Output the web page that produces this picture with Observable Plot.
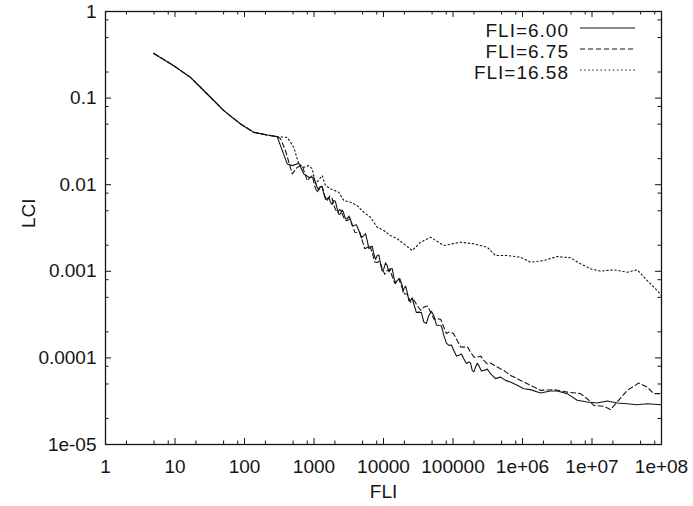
<!DOCTYPE html>
<html><head><meta charset="utf-8">
<script src="https://cdn.jsdelivr.net/npm/d3@7"></script>
<script src="https://cdn.jsdelivr.net/npm/@observablehq/plot@0.6"></script>
<style>body{margin:0;background:#fff} #chart{width:693px;height:506px}</style>
</head><body><div id="chart"></div>
<script>
// ---- data ----
const seriesNames = ["FLI=6.00", "FLI=6.75", "FLI=16.58"];

// shared initial part of all three curves
const fliCommon = [4.95, 9.6, 16.7, 29.1, 50.4, 87.6, 136, 212, 295];
const lciCommon = [0.328, 0.2365, 0.1733, 0.1115, 0.0716, 0.0503, 0.0402, 0.0375, 0.0359];

// FLI=6.00 (solid)
const fliA = [412, 490, 604, 713, 842, 993, 1112, 1176, 1240, 1312, 1384, 1466, 1548, 1638, 1728, 1818, 1908, 2032, 2157, 2282, 2406, 2532, 2658, 2831, 3004, 3178, 3352, 3546, 3739, 4076, 4412, 4809, 5206, 5518, 5829, 6166, 6502, 6878, 7254, 7687, 8120, 8588, 9055, 9578, 10100, 10700, 11300, 11955, 12610, 13340, 14070, 14905, 15740, 17160, 18580, 19085, 19590, 20760, 21930, 23195, 24460, 25875, 27290, 29745, 32200, 35105, 38010, 41435, 44860, 48890, 52920, 57700, 62480, 68110, 73740, 80370, 87000, 94850, 102700, 111950, 121200, 132100, 143000, 155900, 168800, 178900, 189000, 199900, 210800, 222900, 235000, 256250, 277500, 311950, 346400, 408800, 482500, 569400, 672000, 838700, 1.044e6, 1.304e6, 1.816e6, 2.53e6, 3.16e6, 4.40e6, 6.13e6, 8.53e6, 1.188e7, 1.655e7, 2.305e7, 3.21e7, 4.47e7, 6.23e7, 1e8];
const lciA = [0.01738, 0.01661, 0.01766, 0.01332, 0.01217, 0.01217, 0.00933, 0.00866, 0.0095, 0.00944, 0.00783, 0.00676, 0.00686, 0.00716, 0.00627, 0.0059, 0.00656, 0.00644, 0.00526, 0.00454, 0.0046, 0.00511, 0.00477, 0.00405, 0.00403, 0.00435, 0.00396, 0.00338, 0.00338, 0.00345, 0.002956, 0.00244, 0.002587, 0.00272, 0.002265, 0.00183, 0.001897, 0.00195, 0.001591, 0.00137, 0.001521, 0.00154, 0.00122, 0.001008, 0.001069, 0.001252, 0.001167, 0.000984, 0.001069, 0.001077, 0.000855, 0.000721, 0.000783, 0.000823, 0.000686, 0.000578, 0.000628, 0.000673, 0.000574, 0.000455, 0.00046, 0.000494, 0.000422, 0.000334, 0.000338, 0.000335, 0.000259, 0.00025, 0.000309, 0.000346, 0.000309, 0.00024, 0.000237, 0.000235, 0.000182, 0.000148, 0.0001394, 0.000141, 0.000122, 0.000105, 0.0001069, 0.000111, 0.0000979, 0.0000862, 0.0000895, 0.000087, 0.0000717, 0.000069, 0.0000783, 0.0000865, 0.0000819, 0.0000707, 0.0000717, 0.0000742, 0.0000657, 0.0000576, 0.00006, 0.000055, 0.0000526, 0.0000482, 0.0000441, 0.000043, 0.0000393, 0.0000414, 0.0000414, 0.0000387, 0.0000324, 0.0000309, 0.0000301, 0.0000318, 0.0000301, 0.0000296, 0.0000288, 0.0000296, 0.0000288];

// FLI=6.75 (dashed)
const fliB = [329.6, 389, 485.7, 573, 676.5, 798.5, 942, 1027, 1112, 1212, 1312, 1430, 1548, 1688, 1828, 1992, 2157, 2352, 2546, 2775, 3004, 3275, 3545, 3864, 4183, 4560, 4937, 5383, 5829, 6353, 6877, 7499, 8120, 8850, 9580, 10440, 11300, 12320, 13340, 14540, 15740, 16655, 17570, 20000, 22000, 24460, 27500, 30540, 34275, 38010, 42740, 47470, 53370, 59270, 66500, 73740, 80370, 87000, 101000, 114900, 128950, 143000, 160800, 178600, 200750, 222900, 250200, 277500, 311950, 346400, 432500, 538200, 672000, 838700, 1.044e6, 1.304e6, 1.816e6, 2.82e6, 4.40e6, 6.83e6, 8.53e6, 1.062e7, 1.478e7, 1.846e7, 2.305e7, 3.21e7, 4.71e7, 6.23e7, 7.75e7, 1e8];
const lciB = [0.034, 0.02474, 0.01332, 0.01587, 0.01661, 0.01115, 0.01274, 0.00959, 0.0081, 0.00968, 0.0095, 0.00739, 0.00656, 0.00741, 0.00691, 0.00537, 0.00477, 0.00518, 0.00464, 0.0039, 0.00385, 0.00402, 0.003466, 0.00282, 0.0028, 0.00284, 0.002265, 0.00182, 0.00188, 0.001975, 0.001647, 0.00128, 0.001263, 0.00131, 0.001077, 0.000923, 0.001021, 0.00106, 0.000871, 0.000728, 0.000783, 0.000825, 0.000717, 0.00055, 0.000545, 0.00044, 0.000464, 0.000403, 0.000355, 0.000385, 0.000398, 0.000338, 0.000279, 0.000283, 0.00028, 0.0002265, 0.000191, 0.0001984, 0.000193, 0.000159, 0.000134, 0.0001332, 0.000135, 0.0001167, 0.000102, 0.0001021, 0.0001047, 0.0000936, 0.000085, 0.0000871, 0.0000783, 0.0000717, 0.0000628, 0.0000576, 0.0000526, 0.0000482, 0.0000422, 0.000043, 0.0000403, 0.0000387, 0.0000338, 0.0000283, 0.0000276, 0.0000253, 0.0000309, 0.0000422, 0.0000512, 0.000046, 0.0000387, 0.0000387];

// FLI=16.58 (dotted)
const fliC = [412, 512, 604, 713, 842, 942, 1051, 1312, 1464, 1728, 2274, 2685, 3352, 4183, 5206, 6502, 8120, 10100, 12610, 15740, 19590, 25880, 34080, 47470, 73740, 128200, 199200, 310500, 408800, 602500, 935900, 1.304e6, 2.026e6, 3.16e6, 4.905e6, 6.83e6, 9.515e6, 1.326e7, 2.06e7, 3.21e7, 4.47e7, 6.23e7, 8.67e7, 1e8];
const lciC = [0.0352, 0.027, 0.01738, 0.01587, 0.01661, 0.01533, 0.01021, 0.01274, 0.00976, 0.00895, 0.00817, 0.00656, 0.00627, 0.00574, 0.0048, 0.00421, 0.00323, 0.002956, 0.002587, 0.00237, 0.002076, 0.001738, 0.002166, 0.002474, 0.001984, 0.002166, 0.002076, 0.001897, 0.001521, 0.001521, 0.001454, 0.001273, 0.001332, 0.001481, 0.001431, 0.00122, 0.001069, 0.001003, 0.001041, 0.000976, 0.001041, 0.000783, 0.0006, 0.000526];

// ticks
const xTickValues = [1, 10, 100, 1000, 1e4, 1e5, 1e6, 1e7, 1e8];
const xTickLabels = ["1", "10", "100", "1000", "10000", "100000", "1e+06", "1e+07", "1e+08"];
const yTickValues = [1e-5, 1e-4, 1e-3, 1e-2, 0.1, 1];
const yTickLabels = ["1e-05", "0.0001", "0.001", "0.01", "0.1", "1"];
const minorMultipliers = [2, 5, 8];

// ---- build ----
const ownX = [fliA, fliB, fliC], ownY = [lciA, lciB, lciC];
const rows = [];
seriesNames.forEach((name, s) => {
  const xs = fliCommon.concat(ownX[s]), ys = lciCommon.concat(ownY[s]);
  xs.forEach((x, i) => rows.push({series: name, x, y: ys[i]}));
});
const dashes = [null, "5,3", "1.5,2.6"];

const xMinor = [], yMinor = [];
xTickValues.slice(0, -1).forEach(v => minorMultipliers.forEach(m => xMinor.push(v * m)));
yTickValues.slice(0, -1).forEach(v => minorMultipliers.forEach(m => yMinor.push(v * m)));

const W = 693, H = 506, mL = 105, mR = 32, mT = 11, mB = 62;
const iW = W - mL - mR, iH = H - mT - mB;
const ink = "#151515";
const font = "'Liberation Sans', Arial, Helvetica, sans-serif";

const xTicks = xTickValues.map((v, i) => ({v, label: xTickLabels[i]}));
const yTicks = yTickValues.map((v, i) => ({v, label: yTickLabels[i]}));

const chart = Plot.plot({
  width: W, height: H,
  marginLeft: mL, marginRight: mR, marginTop: mT, marginBottom: mB,
  style: {fontFamily: font, background: "#fff", color: ink},
  x: {type: "log", domain: [1, 1e8], axis: null},
  y: {type: "log", domain: [1e-5, 1], axis: null},
  marks: [
    // inward ticks on all four sides
    Plot.ruleX(xTickValues, {x: d => d, insetTop: iH - 6, stroke: ink, strokeWidth: 1}),
    Plot.ruleX(xTickValues, {x: d => d, insetBottom: iH - 6, stroke: ink, strokeWidth: 1}),
    Plot.ruleX(xMinor, {x: d => d, insetTop: iH - 3.5, stroke: ink, strokeWidth: 1}),
    Plot.ruleX(xMinor, {x: d => d, insetBottom: iH - 3.5, stroke: ink, strokeWidth: 1}),
    Plot.ruleY(yTickValues, {y: d => d, insetRight: iW - 6, stroke: ink, strokeWidth: 1}),
    Plot.ruleY(yTickValues, {y: d => d, insetLeft: iW - 6, stroke: ink, strokeWidth: 1}),
    Plot.ruleY(yMinor, {y: d => d, insetRight: iW - 3.5, stroke: ink, strokeWidth: 1}),
    Plot.ruleY(yMinor, {y: d => d, insetLeft: iW - 3.5, stroke: ink, strokeWidth: 1}),
    // curves
    ...seriesNames.map((name, s) => Plot.line(rows.filter(r => r.series === name), {
      x: "x", y: "y", stroke: ink, strokeWidth: 1.1,
      strokeDasharray: dashes[s] || undefined, curve: "linear"
    })),
    Plot.frame({stroke: ink, strokeWidth: 1.3}),
    // tick labels
    Plot.text(xTicks, {x: "v", text: "label", frameAnchor: "bottom", dy: 22, lineAnchor: "middle",
      fontSize: 19, fill: ink}),
    Plot.text(yTicks, {y: "v", text: "label", frameAnchor: "left", dx: -9, textAnchor: "end",
      lineAnchor: "middle", fontSize: 19, fill: ink}),
    // axis titles
    Plot.text(["FLI"], {text: d => d, frameAnchor: "bottom", dy: 47, lineAnchor: "middle", fontSize: 19, fill: ink}),
    Plot.text(["LCI"], {text: d => d, frameAnchor: "left", dx: -77, rotate: -90, lineAnchor: "middle", fontSize: 19, fill: ink})
  ]
});
document.getElementById("chart").appendChild(chart);

// legend inside the frame (top-right), gnuplot style
const svg = d3.select(chart);
const lg = svg.append("g").attr("font-family", font).attr("font-size", 19).attr("fill", ink)
  .attr("letter-spacing", "1px");
seriesNames.forEach((name, s) => {
  const cy = 30 + 21 * s;
  lg.append("text").attr("x", 569).attr("y", cy).attr("dy", "0.35em")
    .attr("text-anchor", "end").text(name);
  const ln = lg.append("line").attr("x1", 580).attr("x2", 635).attr("y1", cy - 2).attr("y2", cy - 2)
    .attr("stroke", ink).attr("stroke-width", 1.1);
  if (dashes[s]) ln.attr("stroke-dasharray", dashes[s]);
});
</script>
</body></html>
